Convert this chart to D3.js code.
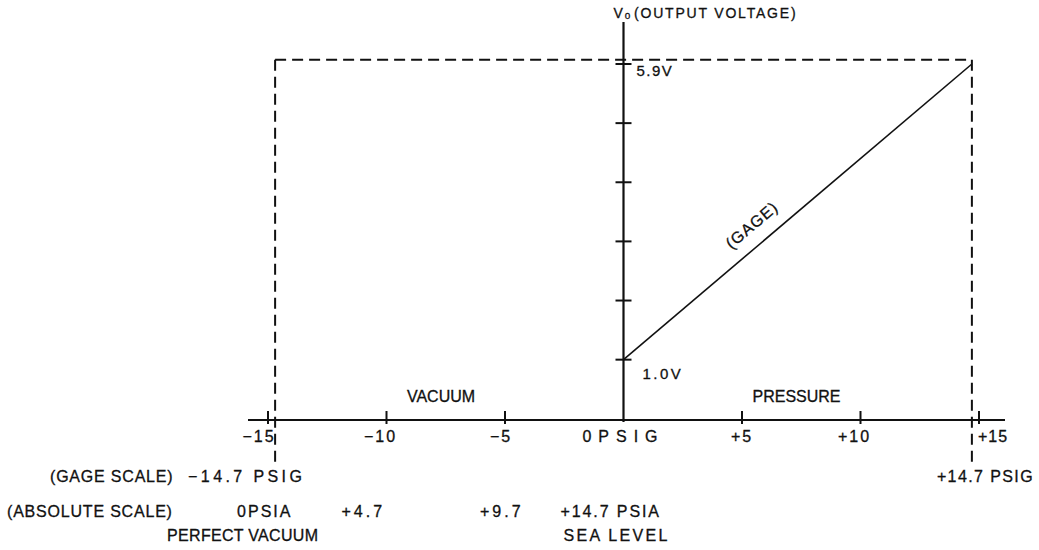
<!DOCTYPE html>
<html>
<head>
<meta charset="utf-8">
<script src="https://cdn.jsdelivr.net/npm/d3@7"></script>
<style>
  html, body { margin: 0; padding: 0; background: #fff; }
  svg { display: block; }
  text { font-family: "Liberation Sans", Arial, sans-serif; fill: #111; stroke: #111; stroke-width: 0.3; }
</style>
</head>
<body>
<svg id="chart" width="1039" height="550"></svg>
<script>
// ---------------- data ----------------
const gageTicks = [-15, -10, -5, 0, 5, 10, 15];
const gageTickLabels = ["\u221215", "\u221210", "\u22125", "0PSIG", "+5", "+10", "+15"];
const voltTicks = [1.0, 1.98, 2.96, 3.94, 4.92, 5.9];
const voltTickLabels = ["1.0V", "", "", "", "", "5.9V"];
const gagePsig = [0, 14.7];          // x of the gage line
const gageVolts = [1.0, 5.9];        // output voltage of the gage line
const rangeLimits = [-14.7, 14.7];   // dashed limit lines (PSIG)
const fullScaleVolts = 5.97;         // dashed top line
const regionLabels = ["VACUUM", "PRESSURE"];
const regionCentres = [-7.7, 7.3];
const gageScaleLabels = ["(GAGE SCALE)", "\u221214.7 PSIG", "+14.7 PSIG"];
const absoluteScaleLabels = ["0PSIA", "+4.7", "+9.7", "+14.7 PSIA"];
const absoluteScaleAt = [-14.7, -10, -5, 0];
const footLabels = ["PERFECT VACUUM", "SEA LEVEL"];

// ---------------- layout ----------------
const svg = d3.select("#chart");
const x = d3.scaleLinear().domain([-15, 15]).range([268, 979]);
const y = d3.scaleLinear().domain([0, 5.9]).range([420, 64]);
const axisY = y(0);
const ink = "#111";
const FS = 16;

// dashed limits
const dash = "11,6";
svg.append("line")
  .attr("x1", x(rangeLimits[0])).attr("x2", x(rangeLimits[1]))
  .attr("y1", y(fullScaleVolts)).attr("y2", y(fullScaleVolts))
  .attr("stroke", ink).attr("stroke-width", 2).attr("stroke-dasharray", dash);
svg.selectAll("line.limit").data(rangeLimits).enter().append("line")
  .attr("class", "limit")
  .attr("x1", d => x(d)).attr("x2", d => x(d))
  .attr("y1", y(fullScaleVolts)).attr("y2", axisY + 45)
  .attr("stroke", ink).attr("stroke-width", 2).attr("stroke-dasharray", dash);

// x axis (gage scale)
svg.append("line")
  .attr("x1", x(-15) - 20).attr("x2", x(15) + 26)
  .attr("y1", axisY).attr("y2", axisY)
  .attr("stroke", ink).attr("stroke-width", 2);
svg.selectAll("line.xtick").data(gageTicks.filter(d => d !== 0)).enter().append("line")
  .attr("class", "xtick")
  .attr("x1", d => x(d)).attr("x2", d => x(d))
  .attr("y1", axisY - 9).attr("y2", axisY + 4)
  .attr("stroke", ink).attr("stroke-width", 2);
const xLabelDx = [-9, -6, -4, 0, 0, -6, 14];
const xLabelLs = [2, 2, 2, 7, 2, 2, 1];
svg.selectAll("text.xlab").data(gageTicks).enter().append("text")
  .attr("class", "xlab")
  .attr("x", (d, i) => x(d) + xLabelDx[i])
  .attr("y", axisY + 22)
  .attr("text-anchor", "middle")
  .attr("font-size", FS)
  .attr("letter-spacing", (d, i) => xLabelLs[i])
  .text((d, i) => gageTickLabels[i]);

// y axis (output voltage)
svg.append("line")
  .attr("x1", x(0)).attr("x2", x(0))
  .attr("y1", 22).attr("y2", axisY + 2)
  .attr("stroke", ink).attr("stroke-width", 2.2);
svg.selectAll("line.ytick").data(voltTicks).enter().append("line")
  .attr("class", "ytick")
  .attr("x1", x(0) - 8).attr("x2", x(0) + 8)
  .attr("y1", d => y(d)).attr("y2", d => y(d))
  .attr("stroke", ink).attr("stroke-width", 2);
svg.selectAll("text.ylab").data(voltTicks).enter().append("text")
  .attr("class", "ylab")
  .attr("x", (d, i) => x(0) + (i === 0 ? 19 : 13))
  .attr("y", (d, i) => y(d) + (i === 0 ? 19 : 12))
  .attr("font-size", 15)
  .attr("letter-spacing", (d, i) => i === 0 ? 2.5 : 1.5)
  .text((d, i) => voltTickLabels[i]);

// y axis title
const title = svg.append("text").attr("x", x(0) - 10).attr("y", 18).attr("font-size", 14).attr("letter-spacing", 1.8);
title.append("tspan").text("V");
title.append("tspan").attr("font-size", 10).attr("dy", 1).text("o");
title.append("tspan").attr("dy", -1).attr("dx", 2).text("(OUTPUT VOLTAGE)");

// gage line
const pts = gagePsig.map((p, i) => [x(p), y(gageVolts[i])]);
svg.append("path")
  .attr("d", d3.line()(pts))
  .attr("fill", "none").attr("stroke", ink).attr("stroke-width", 1.6);
const ang = Math.atan2(pts[1][1] - pts[0][1], pts[1][0] - pts[0][0]) * 180 / Math.PI;
const lp = 5.95;
const lv = gageVolts[0] + (gageVolts[1] - gageVolts[0]) * (lp - gagePsig[0]) / (gagePsig[1] - gagePsig[0]);
svg.append("text")
  .attr("transform", `translate(${x(lp)},${y(lv)}) rotate(${ang}) translate(0,-14)`)
  .attr("text-anchor", "middle")
  .attr("font-size", FS)
  .attr("letter-spacing", 1)
  .text("(GAGE)");

// region labels
svg.selectAll("text.region").data(regionLabels).enter().append("text")
  .attr("class", "region")
  .attr("x", (d, i) => x(regionCentres[i]))
  .attr("y", axisY - 18)
  .attr("text-anchor", "middle")
  .attr("font-size", FS)
  .text(d => d);

// gage scale row
const rowGage = 482;
svg.append("text").attr("x", 50).attr("y", rowGage).attr("font-size", FS).attr("letter-spacing", 0.8).text(gageScaleLabels[0]);
svg.append("text").attr("x", x(rangeLimits[0]) - 87).attr("y", rowGage).attr("font-size", FS).attr("letter-spacing", 3.4).text(gageScaleLabels[1]);
svg.append("text").attr("x", x(rangeLimits[1]) - 35).attr("y", rowGage).attr("font-size", FS).attr("letter-spacing", 1.4).text(gageScaleLabels[2]);

// absolute scale row
const rowAbs = 517;
svg.append("text").attr("x", 7).attr("y", rowAbs).attr("font-size", FS).attr("letter-spacing", 0.8).text("(ABSOLUTE SCALE)");
const absDx = [-38, -45, -25, -63];
const absLs = [2, 3, 3, 1.9];
svg.selectAll("text.abs").data(absoluteScaleAt).enter().append("text")
  .attr("class", "abs")
  .attr("x", (d, i) => x(d) + absDx[i])
  .attr("y", rowAbs)
  .attr("font-size", FS)
  .attr("letter-spacing", (d, i) => absLs[i])
  .text((d, i) => absoluteScaleLabels[i]);

// foot labels
const footAt = [-14.7, 0];
const footDx = [-108, -60];
const footLs = [0.3, 2.3];
svg.selectAll("text.foot").data(footLabels).enter().append("text")
  .attr("class", "foot")
  .attr("x", (d, i) => x(footAt[i]) + footDx[i])
  .attr("y", 541)
  .attr("font-size", FS)
  .attr("letter-spacing", (d, i) => footLs[i])
  .text(d => d);
</script>
</body>
</html>
